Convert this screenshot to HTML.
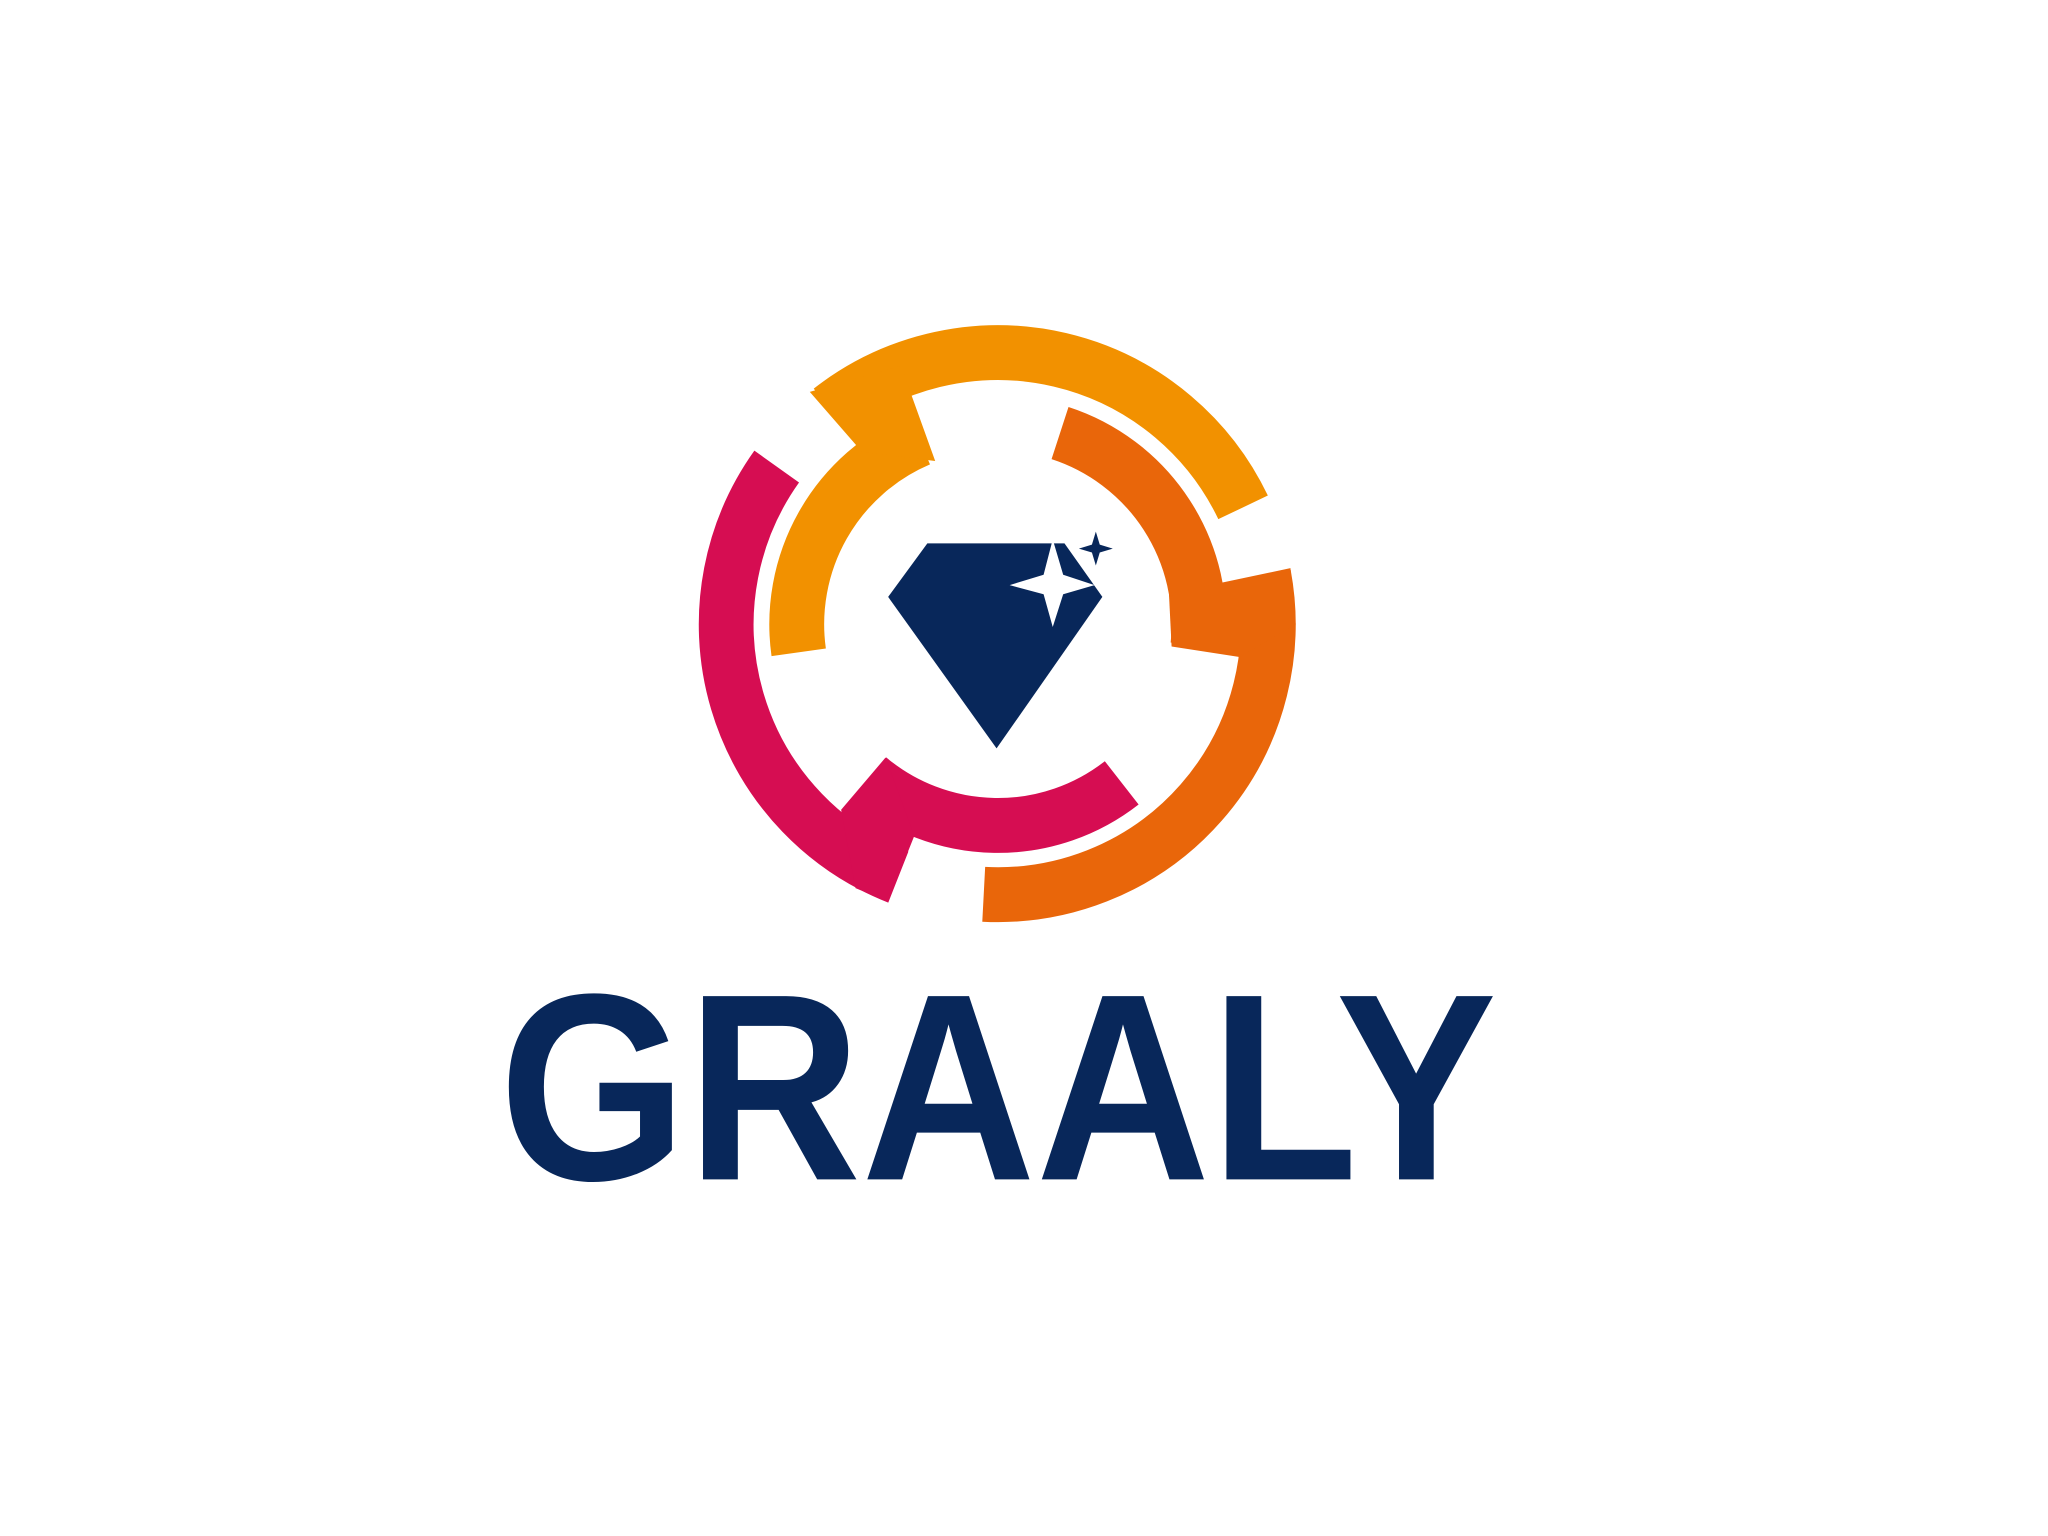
<!DOCTYPE html>
<html><head><meta charset="utf-8"><style>html,body{margin:0;padding:0;background:#fff;}svg{display:block}</style></head>
<body>
<svg width="2048" height="1536" viewBox="0 0 1568 1176" preserveAspectRatio="none" xmlns="http://www.w3.org/2000/svg">
<rect width="1568" height="1176" fill="#fff"/>
<g id="rings" fill="none" stroke-width="42"></g>
<g>
<polygon fill="#F29100" points="620,300 660,346 716,353 698,303 690,280"/>
<polygon fill="#E9660A" points="936,446 988,435 992,478 949,503 897,495 895,455"/>
<polygon fill="#D60D52" points="644,620 678,580 700,640 680,690 655,680"/>
</g>
<polygon fill="#08275A" points="710,416 815,416 844,457 763,573 680,457"/>
<polygon fill="#fff" points="806,413 814,440 838,448 814,455 806,480 799,455 773,448 799,440"/>
<polygon fill="#08275A" points="839,407 842,417 852,420 842,423 839,433 836,423 826,420 836,417"/>
<text x="382" y="903" textLength="764" lengthAdjust="spacingAndGlyphs" font-family="Liberation Sans, sans-serif" font-weight="bold" font-size="204" fill="#08275A">GRAALY</text>
</svg>
<script>
const cx=764, cy=478;
const arcs=[
 ['yellow-outer-arc','#F29100',208,-128,-25.5],
 ['yellow-inner-arc','#F29100',154,-113,-188],
 ['orange-inner-arc','#E9660A',154,-72,6],
 ['orange-outer-arc','#E9660A',207,-10.5,93],
 ['pink-outer-arc','#D60D52',208,-144.5,-248.5],
 ['pink-inner-arc','#D60D52',154,130,52]
];
const g=document.getElementById('rings');
function pt(r,a){const t=a*Math.PI/180;return [cx+r*Math.cos(t),cy+r*Math.sin(t)];}
arcs.forEach(([n,c,r,a0,a1])=>{
 const p0=pt(r,a0),p1=pt(r,a1);
 const sweep=a1>a0?1:0;const large=Math.abs(a1-a0)>180?1:0;
 const el=document.createElementNS('http://www.w3.org/2000/svg','path');
 el.setAttribute('d',`M${p0[0]},${p0[1]} A${r},${r} 0 ${large} ${sweep} ${p1[0]},${p1[1]}`);
 el.setAttribute('stroke',c);
 
 
 g.appendChild(el);
});
</script>
</body></html>
